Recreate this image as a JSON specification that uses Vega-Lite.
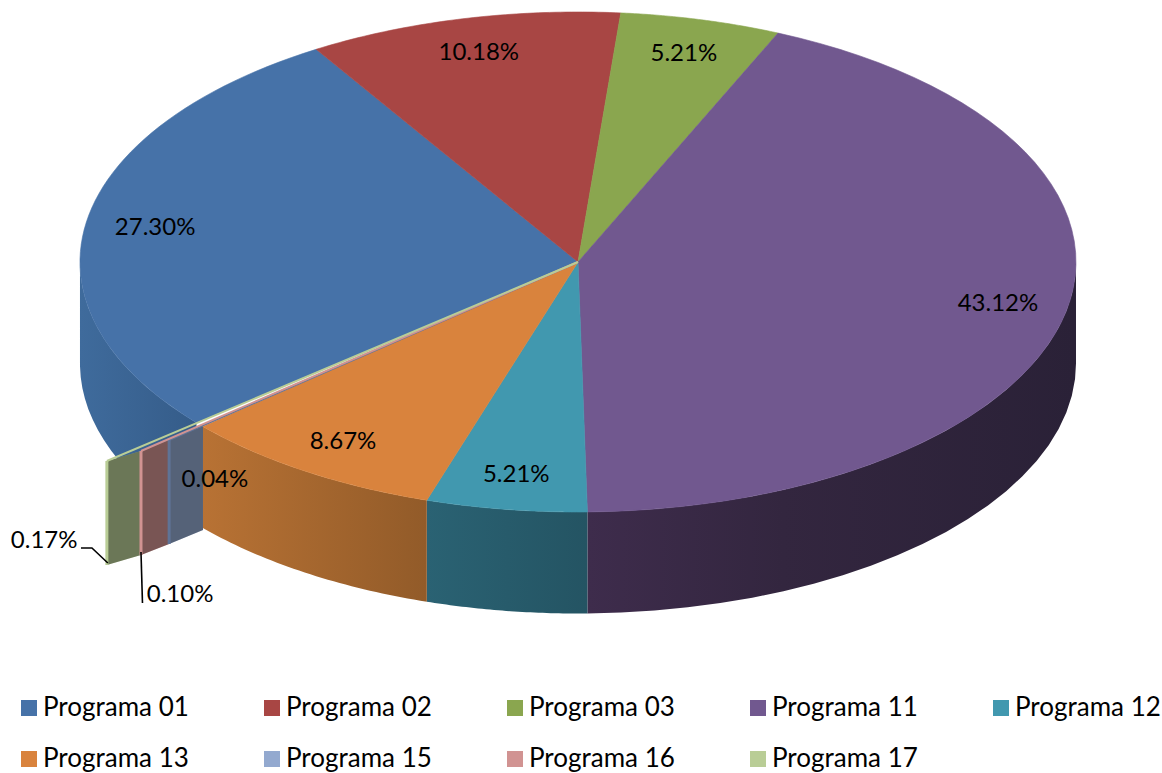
{
"$schema":"https://vega.github.io/schema/vega-lite/v6.json",
"width":1162,"height":773,"autosize":{"type":"fit","contains":"padding"},"padding":0,
"background":"white","config":{"view":{"stroke":null}},
"data":{"values":[
{"program":"Programa 01","share":0.2730},
{"program":"Programa 02","share":0.1018},
{"program":"Programa 03","share":0.0521},
{"program":"Programa 11","share":0.4312},
{"program":"Programa 12","share":0.0521},
{"program":"Programa 13","share":0.0867},
{"program":"Programa 15","share":0.0004},
{"program":"Programa 16","share":0.0010},
{"program":"Programa 17","share":0.0017}
]},
"transform":[
{"stack":"share","sort":[{"field":"program"}],"as":["c0","c1"]},
{"calculate":"230+datum.c0*360","as":"t0"},
{"calculate":"230+datum.c1*360","as":"t1"}
],
"encoding":{
"x":{"field":"u","type":"quantitative","axis":null,"scale":{"domain":[-1.1606,1.1727],"nice":false,"zero":false}},
"y":{"field":"v","type":"quantitative","axis":null,"stack":null,"scale":{"domain":[-2.044,1.048],"nice":false,"zero":false}}
},
"layer":[
{"transform":[{"filter":"datum.program=='Programa 01'"},{"calculate":"sequence(0,41)","as":"step"},{"flatten":["step"]},
{"calculate":"min(datum.t0+(datum.t1-datum.t0)*datum.step/40,270)","as":"ang"},{"calculate":"sin(datum.ang*PI/180)","as":"u"},{"calculate":"cos(datum.ang*PI/180)","as":"v"},{"calculate":"datum.v-0.406","as":"v2"}],
"mark":{"type":"area","orient":"vertical","fill":{"gradient":"linear","x1":0,"x2":1,"y1":0,"y2":0,"stops":[{"offset":0,"color":"#3F6B9C"},{"offset":1,"color":"#355C89"}]}},
"encoding":{"y2":{"field":"v2"}}},
{"transform":[{"filter":"datum.program=='Programa 11'"},{"calculate":"sequence(0,41)","as":"step"},{"flatten":["step"]},
{"calculate":"max(datum.t0+(datum.t1-datum.t0)*datum.step/40,450)","as":"ang"},{"calculate":"sin(datum.ang*PI/180)","as":"u"},{"calculate":"cos(datum.ang*PI/180)","as":"v"},{"calculate":"datum.v-0.406","as":"v2"}],
"mark":{"type":"area","orient":"vertical","fill":{"gradient":"linear","x1":0,"x2":1,"y1":0,"y2":0,"stops":[{"offset":0,"color":"#3E2C4C"},{"offset":0.4,"color":"#33263F"},{"offset":1,"color":"#2A2137"}]}},
"encoding":{"y2":{"field":"v2"}}},
{"transform":[{"filter":"datum.program=='Programa 12'"},{"calculate":"sequence(0,41)","as":"step"},{"flatten":["step"]},
{"calculate":"datum.t0+(datum.t1-datum.t0)*datum.step/40","as":"ang"},{"calculate":"sin(datum.ang*PI/180)","as":"u"},{"calculate":"cos(datum.ang*PI/180)","as":"v"},{"calculate":"datum.v-0.406","as":"v2"}],
"mark":{"type":"area","orient":"vertical","fill":{"gradient":"linear","x1":0,"x2":1,"y1":0,"y2":0,"stops":[{"offset":0,"color":"#2A6273"},{"offset":1,"color":"#245463"}]}},
"encoding":{"y2":{"field":"v2"}}},
{"transform":[{"filter":"datum.program=='Programa 13'"},{"calculate":"sequence(0,41)","as":"step"},{"flatten":["step"]},
{"calculate":"datum.t0+(datum.t1-datum.t0)*datum.step/40","as":"ang"},{"calculate":"sin(datum.ang*PI/180)","as":"u"},{"calculate":"cos(datum.ang*PI/180)","as":"v"},{"calculate":"datum.v-0.406","as":"v2"}],
"mark":{"type":"area","orient":"vertical","fill":{"gradient":"linear","x1":0,"x2":1,"y1":0,"y2":0,"stops":[{"offset":0,"color":"#B87234"},{"offset":1,"color":"#925B29"}]}},
"encoding":{"y2":{"field":"v2"}}},
{"transform":[{"filter":"datum.share<0.01"},{"calculate":"[0,1]","as":"step"},{"flatten":["step"]},
{"calculate":"{'Programa 15':0,'Programa 16':1,'Programa 17':2}[datum.program]+datum.step","as":"e"},
{"calculate":"[-0.753,-0.821,-0.8775,-0.946][datum.e]","as":"u"},{"calculate":"[-0.656,-0.712,-0.756,-0.796][datum.e]","as":"v"},{"calculate":"datum.v-0.416","as":"v2"}],
"mark":{"type":"area","orient":"vertical"},
"encoding":{"y2":{"field":"v2"},
"fill":{"field":"program","type":"nominal","scale":{"domain":["Programa 01","Programa 02","Programa 03","Programa 11","Programa 12","Programa 13","Programa 15","Programa 16","Programa 17"],"range":["#4672A8","#A84644","#8AA64F","#71588F","#4198AF","#D9833D","#93A9CF","#D19392","#B9CD96"]},"legend":{"title":null,"orient":"none","direction":"horizontal","legendX":16,"legendY":695,"columns":5,"symbolType":"square","symbolSize":256,"symbolStrokeWidth":0,"symbolOpacity":1,"labelFont":"Lato","labelFontSize":26,"labelColor":"#000000","labelLimit":200,"labelOffset":1,"columnPadding":70,"rowPadding":25,"gridAlign":"each"}}}},
{"transform":[{"filter":"datum.share<0.01"},{"calculate":"[0,1]","as":"step"},{"flatten":["step"]},
{"calculate":"{'Programa 15':0,'Programa 16':1,'Programa 17':2}[datum.program]+datum.step","as":"e"},
{"calculate":"[-0.753,-0.821,-0.8775,-0.946][datum.e]","as":"u"},{"calculate":"[-0.656,-0.712,-0.756,-0.796][datum.e]","as":"v"},{"calculate":"datum.v-0.416","as":"v2"}],
"mark":{"type":"area","orient":"vertical","fill":"#000000","fillOpacity":0.42},
"encoding":{"y2":{"field":"v2"},"detail":{"field":"program"}}},
{"transform":[{"filter":"datum.share<0.01"},
{"calculate":"{'Programa 15':-0.821,'Programa 16':-0.8775,'Programa 17':-0.946}[datum.program]","as":"u"},{"calculate":"{'Programa 15':-0.712,'Programa 16':-0.756,'Programa 17':-0.796}[datum.program]","as":"v"},{"calculate":"datum.v-0.416","as":"v2"}],
"mark":{"type":"rule","strokeWidth":3},
"encoding":{"y2":{"field":"v2"},"stroke":{"field":"program","type":"nominal","scale":{"domain":["Programa 01","Programa 02","Programa 03","Programa 11","Programa 12","Programa 13","Programa 15","Programa 16","Programa 17"],"range":["#4672A8","#A84644","#8AA64F","#71588F","#4198AF","#D9833D","#5F7396","#D19392","#B9CD96"]},"legend":null}}},
{"transform":[{"filter":"datum.share>=0.01"},{"calculate":"sequence(0,61)","as":"step"},{"flatten":["step"]},
{"calculate":"datum.t0+(datum.t1-datum.t0)*(datum.step-1)/58","as":"ang"},
{"calculate":"datum.step==0||datum.step==60?0:1","as":"r"},
{"calculate":"datum.r*sin(datum.ang*PI/180)","as":"u"},{"calculate":"datum.r*cos(datum.ang*PI/180)","as":"v"}],
"mark":{"type":"line","strokeWidth":0.6,"interpolate":"linear"},
"encoding":{"order":{"field":"step"},
"fill":{"field":"program","type":"nominal"},
"stroke":{"field":"program","type":"nominal","legend":null}}},
{"transform":[{"filter":"datum.share<0.01"},{"calculate":"[0,1]","as":"step"},{"flatten":["step"]},
{"calculate":"datum.step==0?0:{'Programa 15':-0.821,'Programa 16':-0.8775,'Programa 17':-0.946}[datum.program]","as":"u"},
{"calculate":"datum.step==0?0:{'Programa 15':-0.712,'Programa 16':-0.756,'Programa 17':-0.796}[datum.program]","as":"v"}],
"mark":{"type":"line","strokeWidth":2},
"encoding":{"order":{"field":"step"},"stroke":{"field":"program","type":"nominal","legend":null}}},
{"transform":[{"filter":"datum.program=='Programa 16'||datum.program=='Programa 17'"},{"calculate":"[0,1,2]","as":"step"},{"flatten":["step"]},
{"calculate":"{'Programa 16':[-0.8775,-0.8745,-0.8745],'Programa 17':[-0.998,-0.976,-0.944]}[datum.program][datum.step]","as":"u"},
{"calculate":"{'Programa 16':[-1.16,-1.364,-1.364],'Programa 17':[-1.144,-1.144,-1.204]}[datum.program][datum.step]","as":"v"}],
"mark":{"type":"line","color":"#000000","strokeWidth":1.6},
"encoding":{"order":{"field":"step"},"detail":{"field":"program"}}},
{"transform":[{"calculate":"(datum.t0+datum.t1)/2*PI/180","as":"mid"},
{"calculate":"datum.share<0.01?{'Programa 15':-0.729,'Programa 16':-0.799,'Programa 17':-1.072}[datum.program]:0.86*sin(datum.mid)","as":"u"},
{"calculate":"datum.share<0.01?{'Programa 15':-0.872,'Programa 16':-1.332,'Programa 17':-1.116}[datum.program]:0.86*cos(datum.mid)","as":"v"}],
"mark":{"type":"text","font":"Lato","fontSize":24,"color":"#000000","align":"center","baseline":"middle"},
"encoding":{"text":{"field":"share","type":"quantitative","format":".2%"}}}
]
}
